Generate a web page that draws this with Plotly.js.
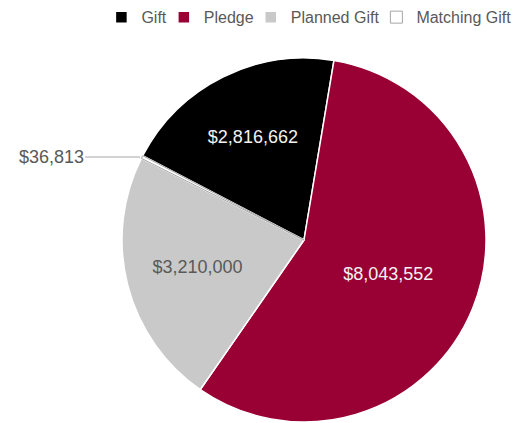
<!DOCTYPE html>
<html>
<head>
<meta charset="utf-8">
<script src="https://cdn.plot.ly/plotly-3.0.1.min.js"></script>
<style>html,body{margin:0;padding:0;background:#fff;}#chart{width:519px;height:423px;}</style>
</head>
<body>
<div id="chart"></div>
<script>
var categories = ['Gift', 'Pledge', 'Planned Gift', 'Matching Gift'];
var amounts = [2816662, 8043552, 3210000, 36813];
var sliceColors = ['#000000', '#990033', '#C9C9C9', '#FFFFFF'];
var lineColors = ['#FFFFFF', '#FFFFFF', '#FFFFFF', '#A6A6A6'];
var textColors = ['#F2F2F2', '#F2F2F2', '#595959', '#595959'];
var rotationDeg = -62.4;
var pieDomainX = [120 / 519, 488 / 519];
var pieDomainY = [0, 1];

function fmt(v) { return '$' + v.toLocaleString('en-US'); }
var labelsText = amounts.map(fmt);
var positions = amounts.map(function (v, i) { return i === amounts.length - 1 ? 'none' : 'inside'; });

// leader-line annotation for the tiny slice, placed at its mid-angle on the rim
var total = amounts.reduce(function (a, b) { return a + b; }, 0);
var before = amounts.slice(0, amounts.length - 1).reduce(function (a, b) { return a + b; }, 0);
var mid = (rotationDeg + 360 * (before + amounts[amounts.length - 1] / 2) / total) * Math.PI / 180;
var annX = pieDomainX[0] + (pieDomainX[1] - pieDomainX[0]) * (0.5 + 0.5 * Math.sin(mid));
var annY = pieDomainY[0] + (pieDomainY[1] - pieDomainY[0]) * (0.5 + 0.5 * Math.cos(mid));

var trace = {
  type: 'pie',
  labels: categories,
  values: amounts,
  text: labelsText,
  textinfo: 'text',
  textposition: positions,
  insidetextorientation: 'horizontal',
  sort: false,
  direction: 'clockwise',
  rotation: rotationDeg,
  domain: { x: pieDomainX, y: pieDomainY },
  marker: { colors: sliceColors, line: { color: lineColors, width: [1.5, 1.5, 1.5, 1] } },
  insidetextfont: { family: 'Liberation Sans, Arial, sans-serif', size: 18, color: textColors },
  hoverinfo: 'label+value'
};

var layout = {
  width: 519, height: 423,
  margin: { l: 0, r: 0, t: 54, b: 1 },
  paper_bgcolor: '#fff',
  showlegend: true,
  legend: {
    orientation: 'h', x: 0.995, xanchor: 'right', y: 1.112, yanchor: 'middle',
    font: { family: 'Liberation Sans, Arial, sans-serif', size: 16, color: '#595959' },
    itemwidth: 30, indentation: -8, tracegroupgap: 0
  },
  annotations: [{
    xref: 'paper', yref: 'paper', x: annX, y: annY,
    text: labelsText[labelsText.length - 1],
    showarrow: true, arrowhead: 0, arrowwidth: 1, arrowcolor: '#A6A6A6',
    ax: -89, ay: 0, standoff: 0,
    font: { family: 'Liberation Sans, Arial, sans-serif', size: 18, color: '#595959' }
  }]
};

Plotly.newPlot('chart', [trace], layout, { displayModeBar: false, staticPlot: true });
</script>
</body>
</html>
